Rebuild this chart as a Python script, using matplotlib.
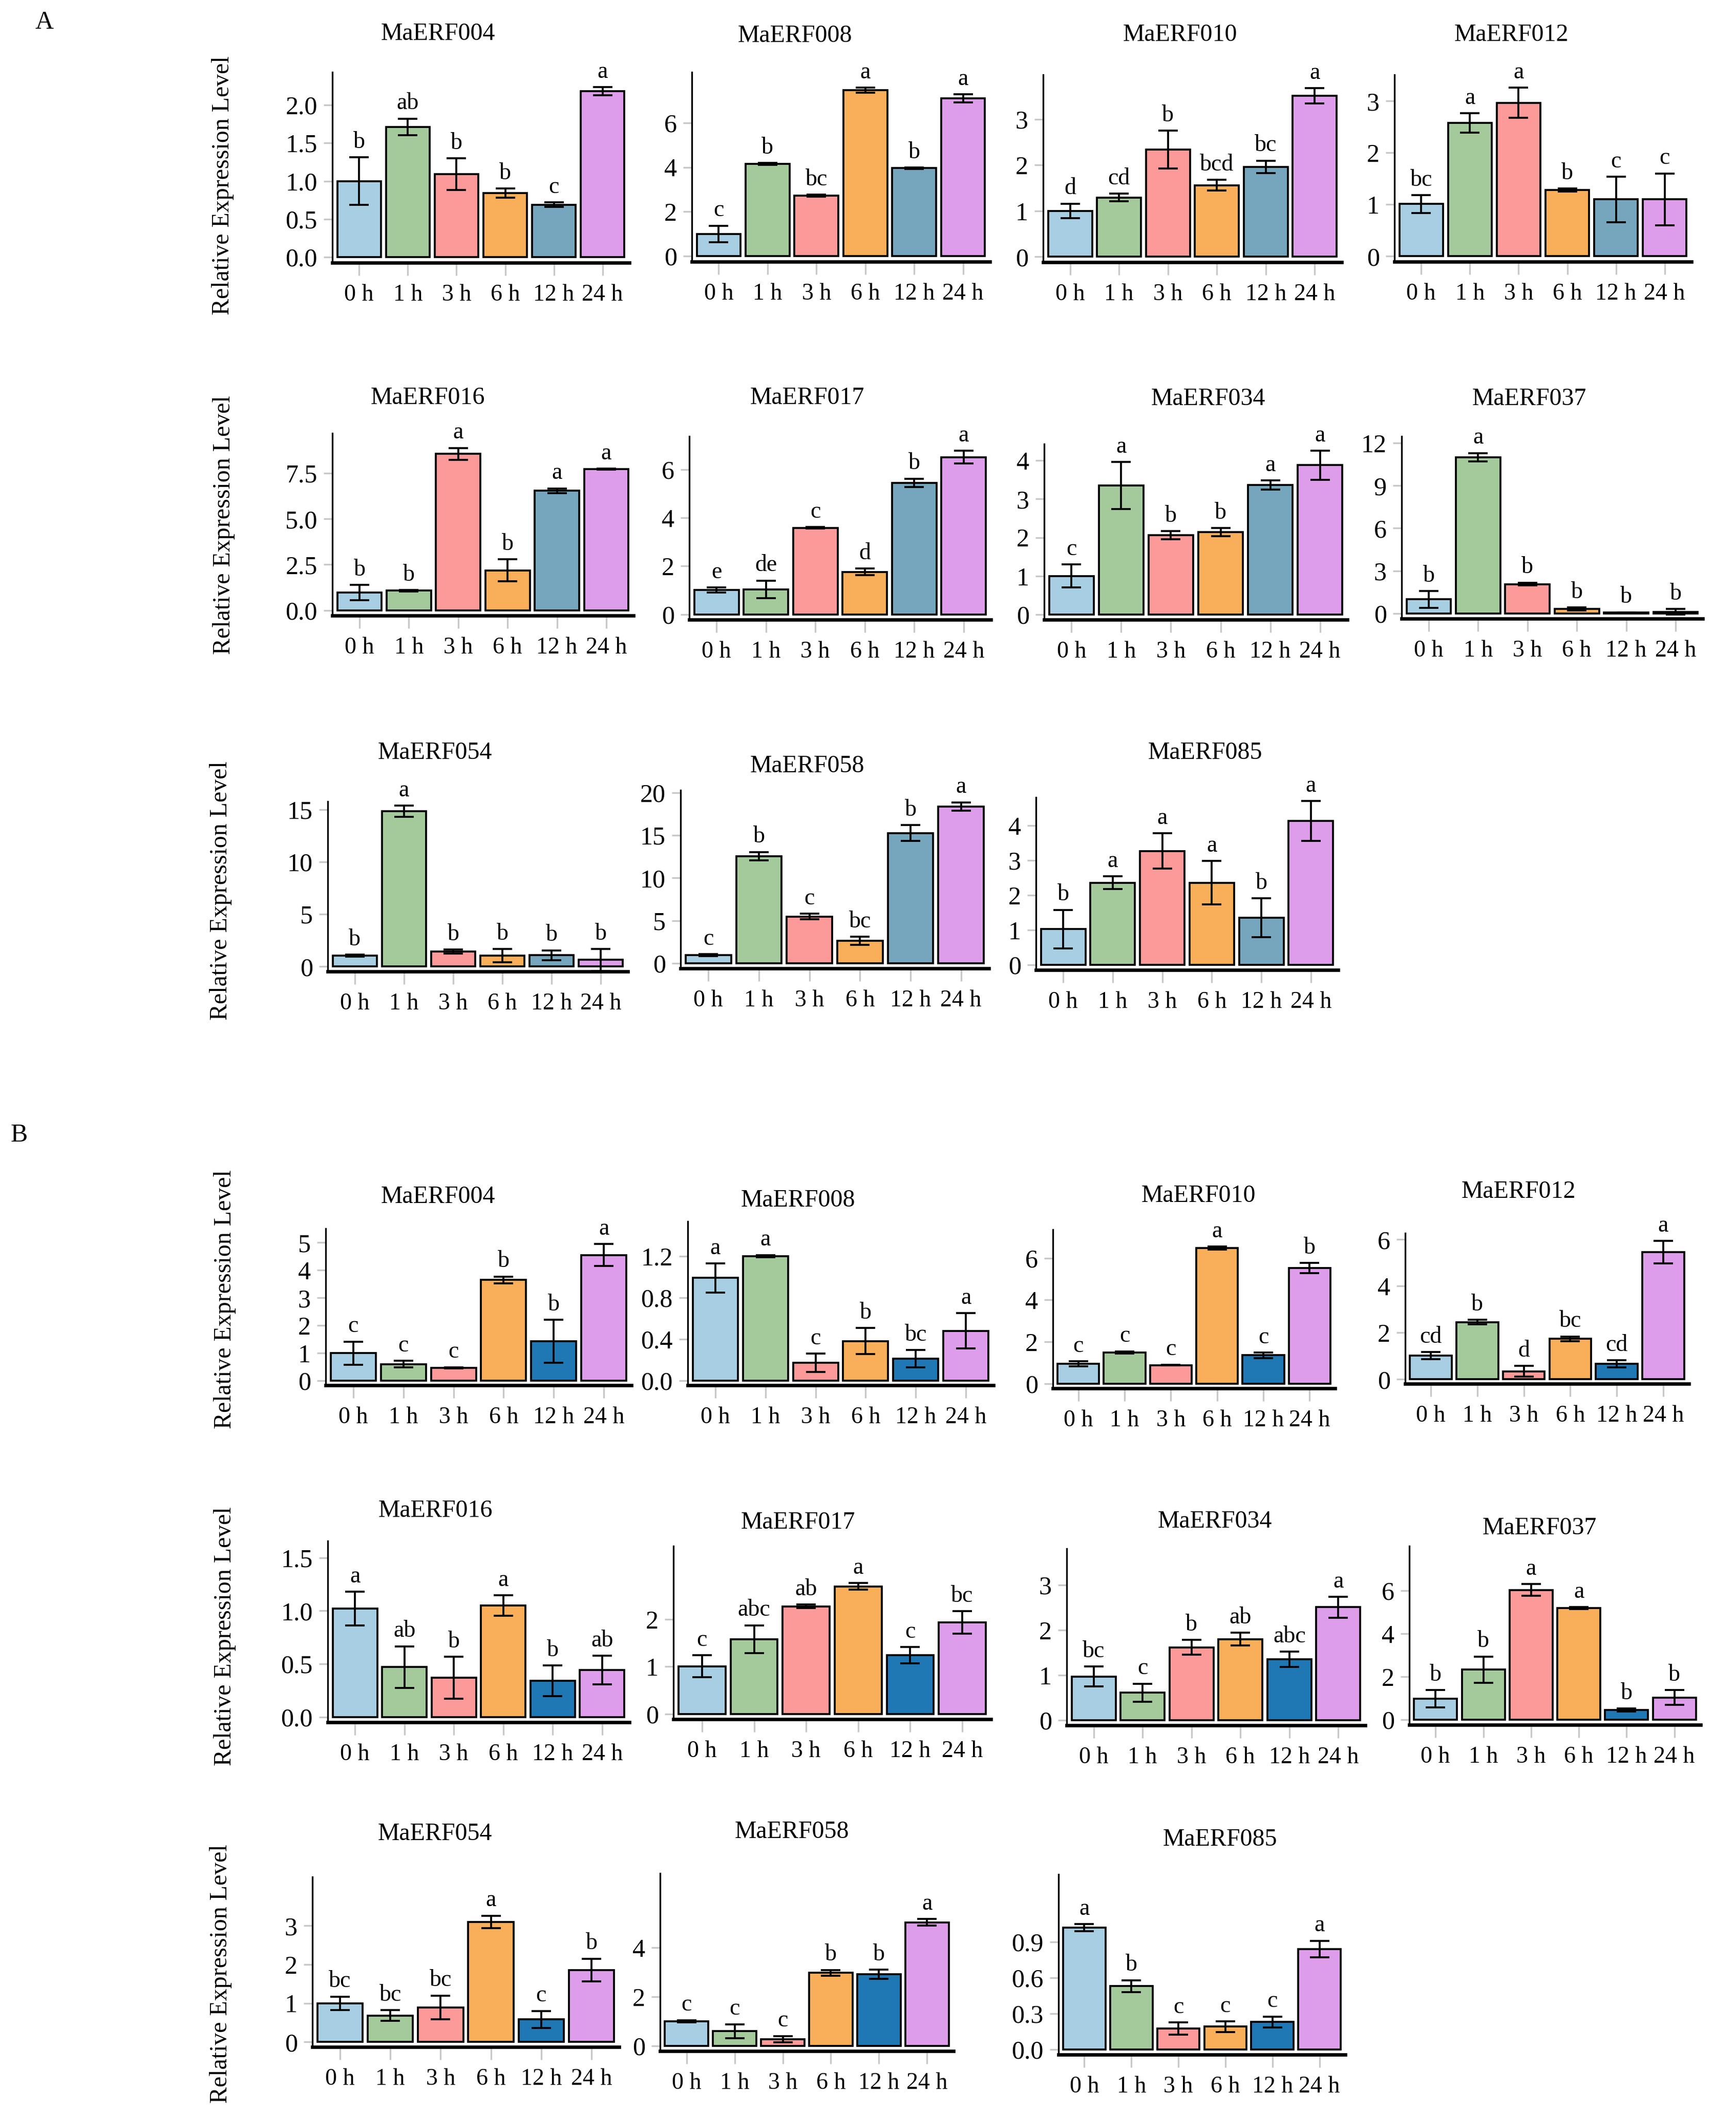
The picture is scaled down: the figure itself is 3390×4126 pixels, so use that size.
import numpy as np
import matplotlib
matplotlib.use("Agg")
import matplotlib.pyplot as plt

plt.rcParams['font.family'] = ['Liberation Serif', 'DejaVu Serif']

# ---------------- data ----------------
times = ['0 h', '1 h', '3 h', '6 h', '12 h', '24 h']
genes_A = ['MaERF004', 'MaERF008', 'MaERF010', 'MaERF012', 'MaERF016', 'MaERF017',
           'MaERF034', 'MaERF037', 'MaERF054', 'MaERF058', 'MaERF085']
genes_B = genes_A

mean_A = {
    'MaERF004': [1.00, 1.71, 1.09, 0.84, 0.69, 2.18],
    'MaERF008': [1.00, 4.15, 2.72, 7.47, 3.96, 7.10],
    'MaERF010': [1.00, 1.29, 2.34, 1.56, 1.96, 3.51],
    'MaERF012': [1.01, 2.58, 2.97, 1.28, 1.10, 1.10],
    'MaERF016': [0.97, 1.07, 8.56, 2.19, 6.54, 7.72],
    'MaERF017': [1.01, 1.03, 3.58, 1.76, 5.45, 6.51],
    'MaERF034': [1.00, 3.35, 2.06, 2.14, 3.36, 3.88],
    'MaERF037': [0.98, 11.0, 2.06, 0.32, 0.05, 0.10],
    'MaERF054': [1.04, 14.84, 1.43, 1.04, 1.08, 0.63],
    'MaERF058': [0.96, 12.55, 5.46, 2.62, 15.26, 18.37],
    'MaERF085': [1.03, 2.36, 3.27, 2.36, 1.35, 4.13],
}
se_A = {
    'MaERF004': [0.31, 0.11, 0.21, 0.06, 0.03, 0.055],
    'MaERF008': [0.37, 0.05, 0.05, 0.12, 0.03, 0.19],
    'MaERF010': [0.16, 0.085, 0.41, 0.12, 0.135, 0.17],
    'MaERF012': [0.17, 0.185, 0.29, 0.03, 0.44, 0.50],
    'MaERF016': [0.42, 0.04, 0.33, 0.60, 0.13, 0.03],
    'MaERF017': [0.10, 0.37, 0.03, 0.14, 0.17, 0.26],
    'MaERF034': [0.30, 0.61, 0.11, 0.105, 0.12, 0.375],
    'MaERF037': [0.58, 0.30, 0.10, 0.10, 0.02, 0.20],
    'MaERF054': [0.10, 0.55, 0.20, 0.64, 0.47, 1.03],
    'MaERF058': [0.10, 0.50, 0.33, 0.48, 0.93, 0.50],
    'MaERF085': [0.55, 0.18, 0.51, 0.62, 0.56, 0.57],
}
sig_A = {
    'MaERF004': ['b', 'ab', 'b', 'b', 'c', 'a'],
    'MaERF008': ['c', 'b', 'bc', 'a', 'b', 'a'],
    'MaERF010': ['d', 'cd', 'b', 'bcd', 'bc', 'a'],
    'MaERF012': ['bc', 'a', 'a', 'b', 'c', 'c'],
    'MaERF016': ['b', 'b', 'a', 'b', 'a', 'a'],
    'MaERF017': ['e', 'de', 'c', 'd', 'b', 'a'],
    'MaERF034': ['c', 'a', 'b', 'b', 'a', 'a'],
    'MaERF037': ['b', 'a', 'b', 'b', 'b', 'b'],
    'MaERF054': ['b', 'a', 'b', 'b', 'b', 'b'],
    'MaERF058': ['c', 'b', 'c', 'bc', 'b', 'a'],
    'MaERF085': ['b', 'a', 'a', 'a', 'b', 'a'],
}
yticks_A = {
    'MaERF004': ['0.0', '0.5', '1.0', '1.5', '2.0'],
    'MaERF008': ['0', '2', '4', '6'],
    'MaERF010': ['0', '1', '2', '3'],
    'MaERF012': ['0', '1', '2', '3'],
    'MaERF016': ['0.0', '2.5', '5.0', '7.5'],
    'MaERF017': ['0', '2', '4', '6'],
    'MaERF034': ['0', '1', '2', '3', '4'],
    'MaERF037': ['0', '3', '6', '9', '12'],
    'MaERF054': ['0', '5', '10', '15'],
    'MaERF058': ['0', '5', '10', '15', '20'],
    'MaERF085': ['0', '1', '2', '3', '4'],
}
ymax_A = {'MaERF004': 2.43, 'MaERF008': 8.28, 'MaERF010': 3.97, 'MaERF012': 3.51,
          'MaERF016': 9.69, 'MaERF017': 7.37, 'MaERF034': 4.43, 'MaERF037': 12.48,
          'MaERF054': 15.78, 'MaERF058': 20.3, 'MaERF085': 4.81}

mean_B = {
    'MaERF004': [1.00, 0.60, 0.47, 3.65, 1.43, 4.55],
    'MaERF008': [0.99, 1.20, 0.17, 0.38, 0.21, 0.48],
    'MaERF010': [0.95, 1.50, 0.89, 6.48, 1.36, 5.53],
    'MaERF012': [1.02, 2.45, 0.35, 1.74, 0.67, 5.45],
    'MaERF016': [1.02, 0.47, 0.37, 1.05, 0.34, 0.44],
    'MaERF017': [1.01, 1.58, 2.27, 2.69, 1.24, 1.93],
    'MaERF034': [0.97, 0.61, 1.62, 1.80, 1.35, 2.51],
    'MaERF037': [0.97, 2.32, 6.03, 5.18, 0.45, 1.03],
    'MaERF054': [1.00, 0.68, 0.89, 3.10, 0.58, 1.86],
    'MaERF058': [1.00, 0.60, 0.27, 2.98, 2.92, 5.04],
    'MaERF085': [1.02, 0.53, 0.175, 0.19, 0.23, 0.84],
}
se_B = {
    'MaERF004': [0.42, 0.12, 0.02, 0.12, 0.78, 0.40],
    'MaERF008': [0.14, 0.01, 0.09, 0.125, 0.085, 0.17],
    'MaERF010': [0.12, 0.05, 0.02, 0.07, 0.13, 0.24],
    'MaERF012': [0.15, 0.10, 0.22, 0.10, 0.15, 0.48],
    'MaERF016': [0.16, 0.195, 0.197, 0.095, 0.145, 0.135],
    'MaERF017': [0.23, 0.29, 0.04, 0.07, 0.17, 0.24],
    'MaERF034': [0.22, 0.20, 0.16, 0.14, 0.17, 0.23],
    'MaERF037': [0.41, 0.61, 0.28, 0.05, 0.07, 0.35],
    'MaERF054': [0.17, 0.14, 0.31, 0.16, 0.22, 0.29],
    'MaERF058': [0.05, 0.28, 0.13, 0.12, 0.19, 0.13],
    'MaERF085': [0.03, 0.05, 0.05, 0.045, 0.045, 0.07],
}
sig_B = {
    'MaERF004': ['c', 'c', 'c', 'b', 'b', 'a'],
    'MaERF008': ['a', 'a', 'c', 'b', 'bc', 'a'],
    'MaERF010': ['c', 'c', 'c', 'a', 'c', 'b'],
    'MaERF012': ['cd', 'b', 'd', 'bc', 'cd', 'a'],
    'MaERF016': ['a', 'ab', 'b', 'a', 'b', 'ab'],
    'MaERF017': ['c', 'abc', 'ab', 'a', 'c', 'bc'],
    'MaERF034': ['bc', 'c', 'b', 'ab', 'abc', 'a'],
    'MaERF037': ['b', 'b', 'a', 'a', 'b', 'b'],
    'MaERF054': ['bc', 'bc', 'bc', 'a', 'c', 'b'],
    'MaERF058': ['c', 'c', 'c', 'b', 'b', 'a'],
    'MaERF085': ['a', 'b', 'c', 'c', 'c', 'a'],
}
yticks_B = {
    'MaERF004': ['0', '1', '2', '3', '4', '5'],
    'MaERF008': ['0.0', '0.4', '0.8', '1.2'],
    'MaERF010': ['0', '2', '4', '6'],
    'MaERF012': ['0', '2', '4', '6'],
    'MaERF016': ['0.0', '0.5', '1.0', '1.5'],
    'MaERF017': ['0', '1', '2'],
    'MaERF034': ['0', '1', '2', '3'],
    'MaERF037': ['0', '2', '4', '6'],
    'MaERF054': ['0', '1', '2', '3'],
    'MaERF058': ['0', '2', '4'],
    'MaERF085': ['0.0', '0.3', '0.6', '0.9'],
}
ymax_B = {'MaERF004': 5.51, 'MaERF008': 1.535, 'MaERF010': 7.36, 'MaERF012': 6.27,
          'MaERF016': 1.657, 'MaERF017': 3.54, 'MaERF034': 3.81, 'MaERF037': 8.07,
          'MaERF054': 4.26, 'MaERF058': 7.04, 'MaERF085': 1.467}

colors_A = ['#A7CEE2', '#A4CA9C', '#FB9A99', '#F9AE59', '#75A6BD', '#DE9DEA']
colors_B = ['#A7CEE2', '#A4CA9C', '#FB9A99', '#F9AE59', '#1F77B4', '#DE9DEA']

# ---------------- layout (pixels in the 3390 x 4126 canvas) ----------------
W, H = 3390, 4126
# left, right, top, bottom of each axes box
box_A = [(649, 1229, 141, 513), (1351, 1933, 141, 511), (2037, 2620, 146, 512), (2723, 3303, 146, 511),
         (649, 1237, 846, 1202), (1346, 1935, 852, 1210), (2039, 2631, 867, 1210), (2737, 3325, 852, 1208),
         (640, 1226, 1565, 1897), (1329, 1931, 1543, 1891), (2023, 2613, 1557, 1894)]
title_A = [(855, 66), (1552, 70), (2304, 68), (2951, 68),
           (835, 777), (1576, 777), (2359, 779), (2986, 779),
           (849, 1470), (1576, 1496), (2353, 1470)]
box_B = [(636, 1233, 2399, 2705), (1343, 1940, 2385, 2705), (2056, 2607, 2401, 2711), (2744, 3298, 2408, 2702),
         (640, 1229, 3009, 3363), (1315, 1935, 3019, 3357), (2083, 2666, 3024, 3369), (2752, 3321, 3019, 3368),
         (610, 1209, 3665, 3997), (1289, 1862, 3658, 4005), (2067, 2627, 3660, 4012)]
title_B = [(855, 2337), (1558, 2344), (2340, 2335), (2965, 2327),
           (850, 2950), (1558, 2973), (2372, 2971), (3006, 2984),
           (849, 3581), (1546, 3577), (2382, 3592)]
ylabel_pos = [(435, 362), (437, 1025), (431, 1739), (439, 2537), (439, 3195), (431, 3854)]

fig = plt.figure(figsize=(W / 300, H / 300), dpi=300)


def draw_panel(box, title_xy, gene, means, ses, sigs, ticks, ymax, colors):
    l, r, t, b = box
    ax = fig.add_axes([l / W, 1 - b / H, (r - l) / W, (b - t) / H])
    x = np.arange(len(times))
    ax.bar(x, means, width=0.9, color=colors, edgecolor='black', linewidth=0.9, zorder=2)
    ax.errorbar(x, means, yerr=ses, fmt='none', ecolor='black', elinewidth=0.9,
                capsize=4.5, capthick=0.9, zorder=3)
    for xi, m, s, lab in zip(x, means, ses, sigs):
        ax.annotate(lab, (xi, m + s), xytext=(0, 2), textcoords='offset points',
                    ha='center', va='bottom', fontsize=11)
    ax.set_xlim(-0.55, 5.55)
    ax.set_ylim(-0.03 * ymax, ymax)
    ax.set_xticks(x)
    ax.set_xticklabels(times, fontsize=11)
    ax.set_yticks([float(v) for v in ticks])
    ax.set_yticklabels(ticks, fontsize=12)
    for side in ['top', 'right']:
        ax.spines[side].set_visible(False)
    ax.spines['left'].set_linewidth(0.8)
    ax.spines['bottom'].set_linewidth(1.6)
    ax.tick_params(axis='both', color='#c8c8c8', length=4, width=0.8, pad=3)
    ax.tick_params(axis='x', length=6, pad=4)
    fig.text(title_xy[0] / W, 1 - title_xy[1] / H, gene, ha='center', va='center', fontsize=11.5)
    return ax


for box, txy, g in zip(box_A, title_A, genes_A):
    draw_panel(box, txy, g, mean_A[g], se_A[g], sig_A[g], yticks_A[g], ymax_A[g], colors_A)

for box, txy, g in zip(box_B, title_B, genes_B):
    draw_panel(box, txy, g, mean_B[g], se_B[g], sig_B[g], yticks_B[g], ymax_B[g], colors_B)

for px, py in ylabel_pos:
    fig.text(px / W, 1 - py / H, 'Relative Expression Level', rotation=90,
             ha='center', va='center', fontsize=11.5)

fig.text(87 / W, 1 - 44 / H, 'A', ha='center', va='center', fontsize=12)
fig.text(37 / W, 1 - 2217 / H, 'B', ha='center', va='center', fontsize=12)

fig.savefig('out.png', dpi=300, facecolor='white')
